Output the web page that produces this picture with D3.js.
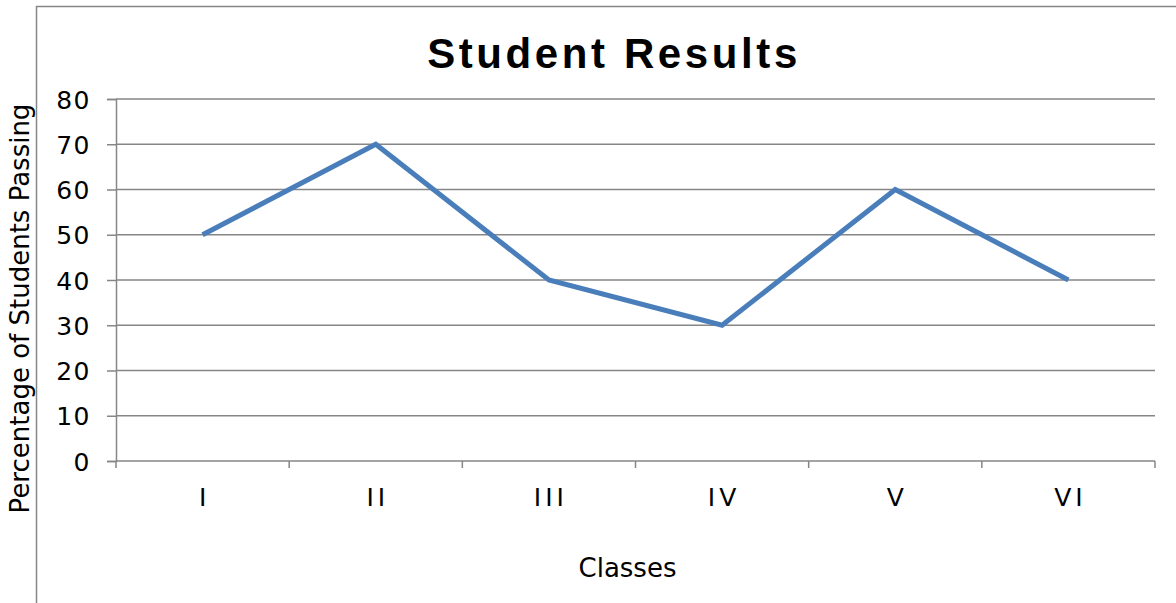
<!DOCTYPE html>
<html><head><meta charset="utf-8">
<script src="https://cdn.jsdelivr.net/npm/d3@7"></script>
<style>body{margin:0;background:#fff}svg{display:block}</style>
</head><body>
<script>
const categories = ["I","II","III","IV","V","VI"];
const values = [50,70,40,30,60,40];
const yTicks = [0,10,20,30,40,50,60,70,80];
const title = "Student Results";
const xTitle = "Classes";
const yTitle = "Percentage of Students Passing";

(function(){
const W = 1176, H = 603;
const svg = d3.select("body").append("svg").attr("width",W).attr("height",H);
const font = "'DejaVu Sans', Verdana, sans-serif";
const grey = "#868686";

svg.append("path").attr("d","M36.5,603 V6.5 H1176").attr("fill","none").attr("stroke",grey).attr("stroke-width",1.5);

const pL = 116, pR = 1155, pT = 99, pB = 461;
const x = d3.scaleBand().domain(categories).range([pL,pR]);
const y = d3.scaleLinear().domain([0,80]).range([pB,pT]);

svg.append("g").selectAll("line").data(yTicks.filter(d=>d>0)).join("line")
  .attr("x1",pL).attr("x2",pR).attr("y1",d=>y(d)).attr("y2",d=>y(d))
  .attr("stroke",grey).attr("stroke-width",1.5);

const ya = svg.append("g").attr("transform",`translate(${pL},0)`)
  .call(d3.axisLeft(y).tickValues(yTicks).tickSize(9).tickPadding(16));
ya.select(".domain").attr("stroke",grey).attr("stroke-width",1.5);
ya.selectAll(".tick line").attr("stroke",grey).attr("stroke-width",1.5);
ya.selectAll("text").attr("font-family",font).attr("font-size",25).attr("letter-spacing",1.5).attr("fill","#000").attr("dy","0.36em");

const xa = svg.append("g").attr("transform",`translate(0,${pB})`);
xa.append("line").attr("x1",pL).attr("x2",pR).attr("stroke",grey).attr("stroke-width",1.5);
const edges = categories.map(c=>x(c)).concat([pR]);
xa.selectAll(".tk").data(edges).join("line").attr("class","tk")
  .attr("x1",d=>d).attr("x2",d=>d).attr("y1",0).attr("y2",7).attr("stroke",grey).attr("stroke-width",1.5);
xa.selectAll("text.lb").data(categories).join("text").attr("class","lb")
  .attr("x",d=>x(d)+x.bandwidth()/2+2).attr("y",45).attr("text-anchor","middle")
  .attr("font-family",font).attr("font-size",25).attr("letter-spacing",4).attr("fill","#000").text(d=>d);

const line = d3.line().x((d,i)=>x(categories[i])+x.bandwidth()/2).y(d=>y(d));
svg.append("path").datum(values).attr("d",line).attr("fill","none")
  .attr("stroke","#4a7ebb").attr("stroke-width",5).attr("stroke-linejoin","miter");

svg.append("text").attr("x",614).attr("y",68).attr("text-anchor","middle")
  .attr("font-family","'Liberation Sans', Arial, sans-serif").attr("font-weight","bold")
  .attr("font-size",42).attr("letter-spacing",3.6).text(title);
svg.append("text").attr("x",627.5).attr("y",577).attr("text-anchor","middle")
  .attr("font-family",font).attr("font-size",26).text(xTitle);
svg.append("text").attr("transform","translate(29,308.5) rotate(-90)").attr("text-anchor","middle")
  .attr("font-family",font).attr("font-size",26).text(yTitle);
})();
</script>
</body></html>
